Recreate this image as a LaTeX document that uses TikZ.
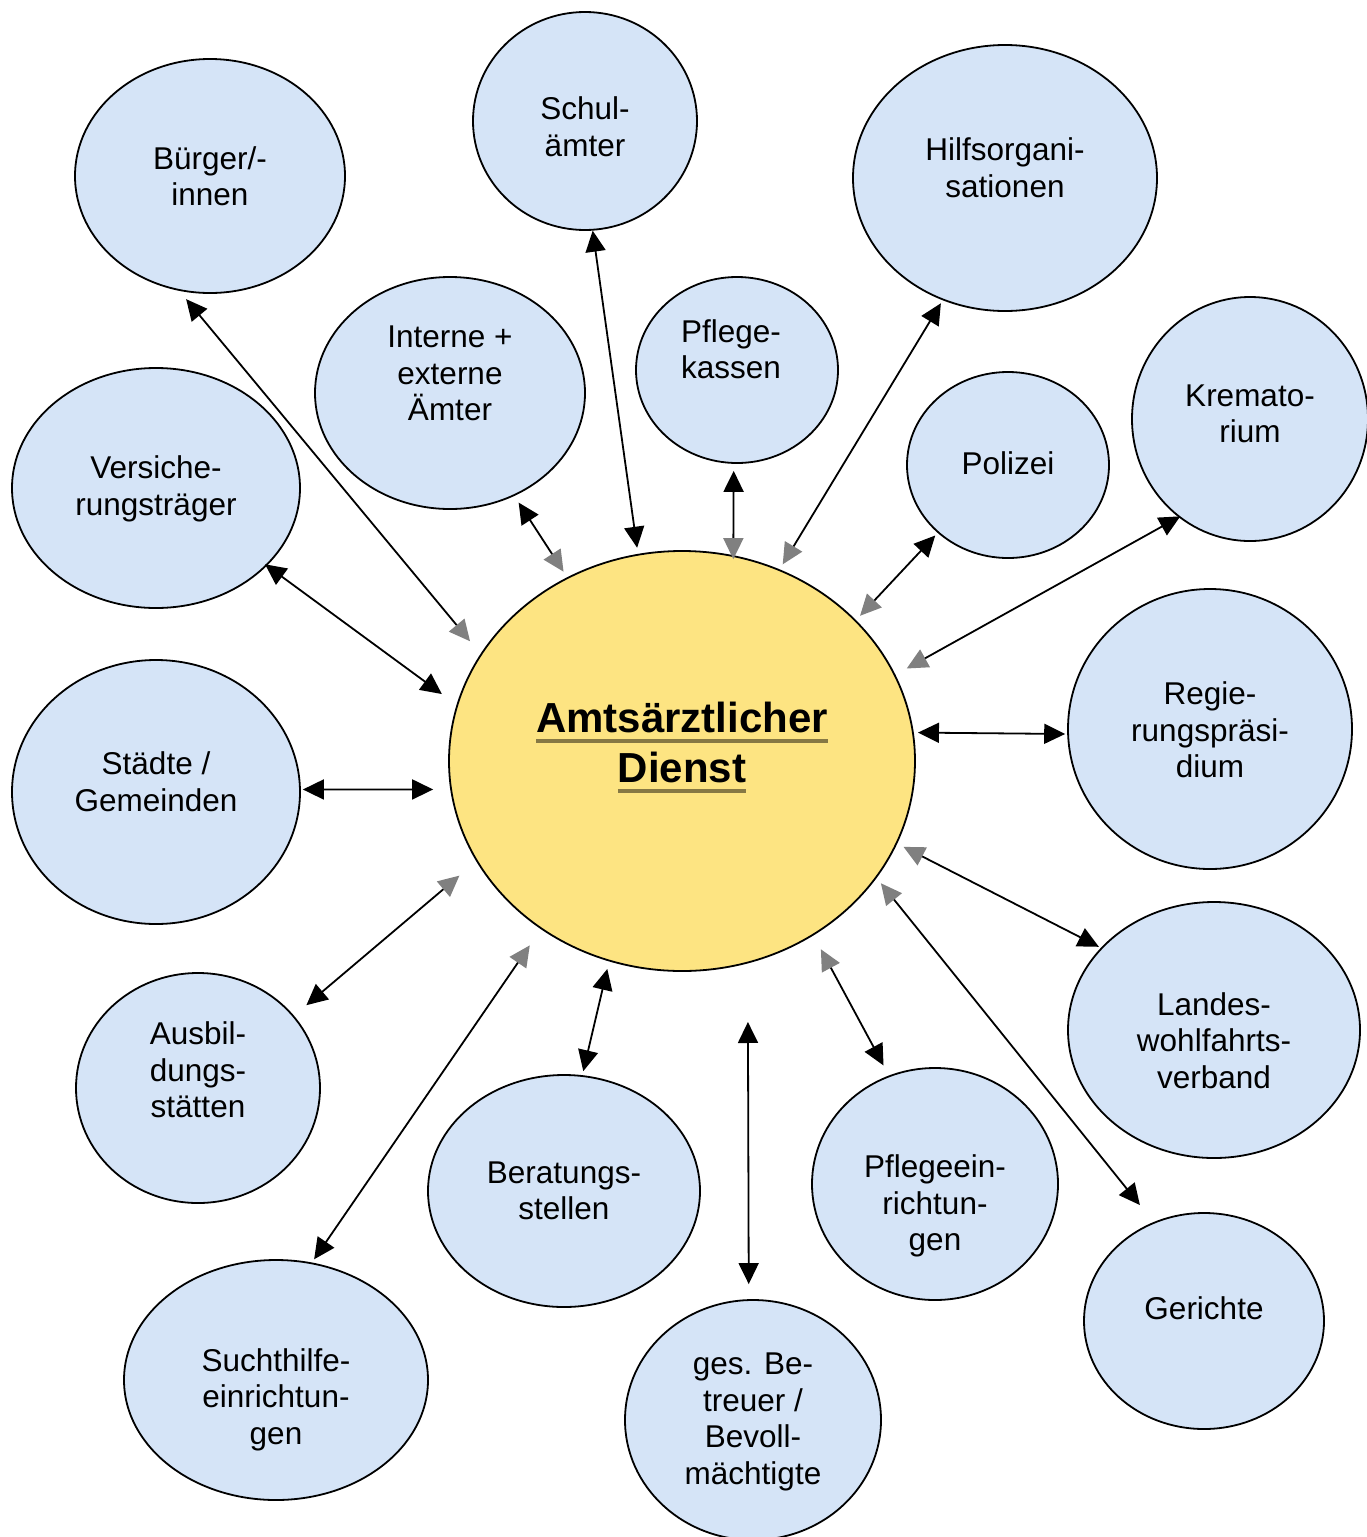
\documentclass[tikz,border=0pt]{standalone}
\usepackage{fontspec}
\setmainfont{Liberation Sans}
\usetikzlibrary{arrows.meta,shapes.geometric}
\definecolor{bubfill}{RGB}{213,228,247}
\definecolor{corefill}{RGB}{253,228,130}
\definecolor{ulcol}{RGB}{134,120,68}
\definecolor{tipgray}{RGB}{128,128,128}
\newcommand\ulx[1]{\setbox0\hbox{#1}\rlap{\color{ulcol}\rule[-5.5pt]{\wd0}{2pt}}\box0}
\tikzset{
  bub/.style 2 args={ellipse, draw=black, line width=0.9pt, fill=bubfill,
    minimum width=#1pt, minimum height=#2pt, inner sep=0pt},
  core/.style={ellipse, draw=black, line width=0.9pt, fill=corefill,
    minimum width=233pt, minimum height=210pt, inner sep=0pt},
  ltx/.style={font=\fontsize{15.75}{18.25}\selectfont, align=center, inner sep=0pt, text=black},
  ctx/.style={font=\fontsize{21}{25}\selectfont\bfseries, align=center, inner sep=0pt, text=black},
  link/.style={line width=0.9pt, draw=black},
  bb/.style={link, {Triangle[length=10.5pt,width=10pt]}-{Triangle[length=10.5pt,width=10pt]}},
  bg/.style={link, {Triangle[length=10.5pt,width=10pt]}-{Triangle[length=10.5pt,width=10pt,color=tipgray]}},
}
\begin{document}
\begin{tikzpicture}[x=0.5pt,y=-0.5pt]
\fill[white] (0,0) rectangle (1366,1537);
\useasboundingbox (0,0) rectangle (1366,1537);

% central node
\node[core, label={[ctx,yshift=6.75pt]center:\ulx{Amtsärztlicher}\\\ulx{Dienst}}] (C) at (682,761) {};

% surrounding bubbles
\node[bub={135}{117}, label={[ltx]center:Bürger/-\\innen}] (buerger) at (210,176) {};
\node[bub={112}{109}, label={[ltx,yshift=-2.75pt]center:Schul-\\ämter}] (schul) at (585,121) {};
\node[bub={152}{133}, label={[ltx,yshift=5.25pt]center:Hilfsorgani-\\sationen}] (hilfs) at (1005,178) {};
\node[bub={135}{116}, label={[ltx,yshift=9.75pt]center:Interne +\\externe\\Ämter}] (interne) at (450,393) {};
\node[bub={101}{93}, label={[ltx,yshift=10.5pt,xshift=-3pt]center:Pflege-\\kassen}] (pflegek) at (737,370) {};
\node[bub={101}{93}, label={[ltx,yshift=1pt]center:Polizei}] (polizei) at (1008,465) {};
\node[bub={118}{122}, label={[ltx,yshift=2.5pt]center:Kremato-\\rium}] (krema) at (1250,419) {};
\node[bub={144}{120}, label={[ltx,yshift=-0.4pt]center:Versiche-\\rungsträger}] (versich) at (156,488) {};
\node[bub={142}{140}, label={[ltx,yshift=-0.5pt]center:Regie-\\rungspräsi-\\dium}] (regier) at (1210,729) {};
\node[bub={144}{132}, label={[ltx,yshift=5.25pt]center:Städte /\\Gemeinden}] (staedte) at (156,792) {};
\node[bub={146}{128}, label={[ltx,yshift=-5.25pt]center:Landes-\\wohlfahrts-\\verband}] (landes) at (1214,1030) {};
\node[bub={122}{115}, label={[ltx,yshift=9pt]center:Ausbil-\\dungs-\\stätten}] (ausbild) at (198,1088) {};
\node[bub={136}{116}, label={[ltx]center:Beratungs-\\stellen}] (berat) at (564,1191) {};
\node[bub={123}{116}, label={[ltx,yshift=-11.15pt]center:Pflegeein-\\richtun-\\gen}] (pflegee) at (935,1184) {};
\node[bub={120}{108}, label={[ltx,yshift=6.5pt]center:Gerichte}] (gerichte) at (1204,1321) {};
\node[bub={152}{120}, label={[ltx,yshift=-9.9pt]center:Suchthilfe-\\einrichtun-\\gen}] (sucht) at (276,1380) {};
\node[bub={128}{120}, label={[ltx,yshift=-0.9pt]center:ges. Be-\\treuer /\\Bevoll-\\mächtigte}] (betreuer) at (753,1420) {};

% connectors
\draw[bg, shorten <=5.4pt, shorten >=8.2pt] (buerger.-105.7) -- (C.152.4);
\draw[bg, shorten <=3.95pt, shorten >=3.35pt] (interne.-58.05) -- (C.122.3);
\draw[bb, shorten >=3.1pt] (schul.-86.85) -- (C.102.64);
\draw[bg, shorten <=3.5pt, shorten >=-1.95pt] (pflegek.-92.46) -- (C.76.02);
\draw[bg, shorten <=1.75pt, shorten >=2.95pt] (hilfs.-117.6) -- (C.63.08);
\draw[bg, shorten <=1.75pt, shorten >=2.95pt] (polizei.-136.7) -- (C.39.88);
\draw[bg, shorten <=-0.95pt, shorten >=6.45pt] (krema.-126.5) -- (C.22.52);
\draw[bb, shorten <=1pt, shorten >=2.1pt] (regier.-178.8) -- (C.7.16);
\draw[bg, shorten <=1.1pt, shorten >=3.55pt] (landes.144.95) -- (C.-21.4);
\draw[bg, shorten <=10.9pt, shorten >=3.4pt] (gerichte.117.2) -- (C.-31.07);
\draw[bg, shorten <=5.7pt, shorten >=7.85pt] (pflegee.113.95) -- (C.-53.76);
\draw[bb, shorten <=7.55pt, shorten >=29.3pt] (betreuer.92.39) -- (C.-72.3);
\draw[bb, shorten <=2.05pt, shorten >=3.9pt] (berat.81.07) -- (C.-110.17);
\draw[bg, shorten <=1.95pt, shorten >=9.8pt] (sucht.73.41) -- (C.-130.77);
\draw[bg, shorten <=8.1pt, shorten >=11.05pt] (ausbild.37.42) -- (C.-154.67);
\draw[bb, shorten <=1pt, shorten >=8.55pt] (staedte.1.19) -- (C.-173.09);
\draw[bb, shorten <=-1.2pt, shorten >=9.1pt] (versich.-35.16) -- (C.166.74);
\end{tikzpicture}
\end{document}
